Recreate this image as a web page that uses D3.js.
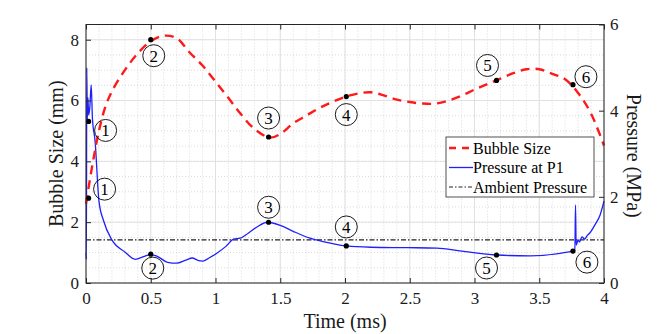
<!DOCTYPE html>
<html>
<head>
<meta charset="utf-8">
<script src="https://cdn.jsdelivr.net/npm/d3@7"></script>
<style>
  body { margin: 0; background: #fff; }
</style>
</head>
<body>
<div id="canvas"></div>
<script>
"use strict"

/* ---------- data ---------- */
let bubbleTime = [0, 0.05, 0.1, 0.15, 0.2, 0.3, 0.4, 0.5, 0.6, 0.7, 0.8, 0.9, 1.0, 1.1, 1.2, 1.3, 1.42,
  1.5, 1.6, 1.7, 1.8, 1.9, 2.0, 2.1, 2.2, 2.3, 2.4, 2.5, 2.6, 2.7, 2.8, 2.9, 3.0, 3.1, 3.2, 3.3, 3.4,
  3.5, 3.6, 3.7, 3.8, 3.9, 4.0];
let bubbleSize = [2.6, 3.9, 5.0, 5.8, 6.3, 7.0, 7.55, 7.95, 8.13, 8.05, 7.58, 7.15, 6.62, 6.08, 5.53, 5.07, 4.78,
  4.9, 5.25, 5.5, 5.75, 5.95, 6.12, 6.23, 6.27, 6.17, 6.03, 5.95, 5.9, 5.9, 6.0, 6.16, 6.36, 6.54, 6.72, 6.9, 7.03,
  7.03, 6.88, 6.7, 6.25, 5.57, 4.52];

let pressureTime = [0, 0.003, 0.006, 0.01, 0.015, 0.02, 0.03, 0.04, 0.05, 0.07, 0.1, 0.135, 0.2, 0.3, 0.38,
  0.45, 0.5, 0.55, 0.63, 0.7, 0.77, 0.82, 0.87, 0.9, 0.95, 1.01, 1.08, 1.14, 1.19, 1.25, 1.32, 1.4, 1.5,
  1.6, 1.73, 1.85, 1.96, 2.01, 2.2, 2.48, 2.71, 2.9, 3.17, 3.43, 3.66, 3.76, 3.775, 3.78, 3.785, 3.8,
  3.81, 3.83, 3.85, 3.87, 3.89, 3.93, 3.97, 4.0];
let pressureVal = [0.7, 0.55, 5.0, 3.8, 4.3, 3.9, 4.1, 4.6, 3.8, 3.3, 1.9, 1.45, 1.0, 0.72, 0.55,
  0.62, 0.66, 0.62, 0.48, 0.46, 0.53, 0.58, 0.52, 0.51, 0.58, 0.69, 0.85, 1.02, 1.04, 1.15, 1.3, 1.41, 1.34,
  1.2, 1.04, 0.95, 0.88, 0.86, 0.83, 0.82, 0.81, 0.74, 0.65, 0.63, 0.69, 0.74, 0.75, 1.81, 0.88, 1.0,
  0.95, 1.07, 1.02, 1.1, 1.16, 1.35, 1.58, 1.9];

let ambientPressure = 1.0;

let markLabels = ["1", "2", "3", "4", "5", "6"];
let markTime = [0.02, 0.5, 1.41, 2.01, 3.17, 3.76];
let bubbleMark = [2.79, 8.0, 4.8, 6.13, 6.66, 6.52];
let pressureMark = [3.75, 0.67, 1.41, 0.86, 0.65, 0.74];

let xTicks = [0, 0.5, 1, 1.5, 2, 2.5, 3, 3.5, 4];
let leftTicks = [0, 2, 4, 6, 8];
let rightTicks = [0, 2, 4, 6];

let legendNames = ["Bubble Size", "Pressure at P1", "Ambient Pressure"];

/* ---------- canvas ---------- */
let width = 667, height = 334;
let plotLeft = 86, plotRight = 604, plotTop = 24.5, plotBottom = 283;
let axisColor = "#262626";
let serif = "'Liberation Serif', 'Times New Roman', serif";

let drawing = d3.select("#canvas")
  .append("svg")
  .attr("width", width)
  .attr("height", height)
  .style("font-family", serif);

let x = d3.scaleLinear().domain([0, 4]).range([plotLeft, plotRight]);
let yLeft = d3.scaleLinear().domain([0, 8.5]).range([plotBottom, plotTop]);
let yRight = d3.scaleLinear().domain([0, 6]).range([plotBottom, plotTop]);

/* ---------- grid (minor dotted, major solid) ---------- */
let grid = drawing.append("g");
let xMinor = d3.range(0, 4.0001, 0.1);
let yMinor = d3.range(0, 8.5001, 0.5);

grid.selectAll(".xm").data(xMinor).join("line")
  .attr("x1", d => x(d)).attr("x2", d => x(d))
  .attr("y1", plotTop).attr("y2", plotBottom)
  .attr("stroke", "#cccccc").attr("stroke-width", 0.7).attr("stroke-dasharray", "1,2");
grid.selectAll(".ym").data(yMinor).join("line")
  .attr("x1", plotLeft).attr("x2", plotRight)
  .attr("y1", d => yLeft(d)).attr("y2", d => yLeft(d))
  .attr("stroke", "#cccccc").attr("stroke-width", 0.7).attr("stroke-dasharray", "1,2");
grid.selectAll(".xM").data(xTicks).join("line")
  .attr("x1", d => x(d)).attr("x2", d => x(d))
  .attr("y1", plotTop).attr("y2", plotBottom)
  .attr("stroke", "#dcdcdc").attr("stroke-width", 0.8);
grid.selectAll(".yM").data(leftTicks).join("line")
  .attr("x1", plotLeft).attr("x2", plotRight)
  .attr("y1", d => yLeft(d)).attr("y2", d => yLeft(d))
  .attr("stroke", "#dcdcdc").attr("stroke-width", 0.8);

/* ---------- curves ---------- */
let ambientLine = drawing.append("line")
  .attr("x1", x(0)).attr("x2", x(4))
  .attr("y1", yRight(ambientPressure)).attr("y2", yRight(ambientPressure))
  .attr("stroke", "#222").attr("stroke-width", 1.1)
  .attr("stroke-dasharray", "5,2,1.5,2");

let pressureLine = d3.line()
  .x((d, i) => x(pressureTime[i]))
  .y(d => yRight(d))
  .curve(d3.curveMonotoneX);

drawing.append("path")
  .datum(pressureVal)
  .attr("d", pressureLine)
  .attr("fill", "none")
  .attr("stroke", "#1f1fff")
  .attr("stroke-width", 1.3);

let bubbleLine = d3.line()
  .x((d, i) => x(bubbleTime[i]))
  .y(d => yLeft(d))
  .curve(d3.curveCatmullRom);

drawing.append("path")
  .datum(bubbleSize)
  .attr("d", bubbleLine)
  .attr("fill", "none")
  .attr("stroke", "#ff1a1a")
  .attr("stroke-width", 2.4)
  .attr("stroke-dasharray", "9,6");

/* ---------- numbered markers ---------- */
/* label offsets (px) from each dot */
let bubbleOffset = [[16, -9], [3, 16], [0, -19], [0, 18], [-9, -15], [13, -8]];
let pressureOffset = [[17, 9], [2, 14], [0, -15], [0, -19], [-10, 13], [14, 11]];

function drawMarks(values, yScale, offsets) {
  let g = drawing.append("g");
  values.forEach((v, i) => {
    let px = x(markTime[i]), py = yScale(v);
    g.append("circle").attr("cx", px).attr("cy", py).attr("r", 2.6).attr("fill", "#000");
    let cx = px + offsets[i][0], cy = py + offsets[i][1];
    g.append("circle").attr("cx", cx).attr("cy", cy).attr("r", 11)
      .attr("fill", "none").attr("stroke", "#000").attr("stroke-width", 0.9);
    g.append("text").attr("x", cx).attr("y", cy + 6)
      .attr("text-anchor", "middle").style("font-size", "17px")
      .style("font-family", serif).attr("fill", "#000")
      .text(markLabels[i]);
  });
}
drawMarks(bubbleMark, yLeft, bubbleOffset);
drawMarks(pressureMark, yRight, pressureOffset);

/* ---------- frame and axes ---------- */
let frame = drawing.append("rect")
  .attr("x", plotLeft).attr("y", plotTop)
  .attr("width", plotRight - plotLeft).attr("height", plotBottom - plotTop)
  .attr("fill", "none").attr("stroke", axisColor).attr("stroke-width", 1);

function styleAxis(g) {
  g.select(".domain").remove();
  g.selectAll("line").attr("stroke", axisColor);
  g.selectAll("text").attr("fill", "#1a1a1a")
    .style("font-family", serif).style("font-size", "17px");
}

drawing.append("g")
  .attr("transform", `translate(0,${plotBottom})`)
  .call(d3.axisBottom(x).tickValues(xTicks).tickFormat(d3.format("~g"))
    .tickSizeInner(-5).tickSizeOuter(0).tickPadding(9))
  .call(styleAxis);

drawing.append("g")
  .attr("transform", `translate(0,${plotTop})`)
  .call(d3.axisTop(x).tickValues(xTicks).tickFormat("")
    .tickSizeInner(-5).tickSizeOuter(0))
  .call(styleAxis);

drawing.append("g")
  .attr("transform", `translate(${plotLeft},0)`)
  .call(d3.axisLeft(yLeft).tickValues(leftTicks).tickFormat(d3.format("~g"))
    .tickSizeInner(-5).tickSizeOuter(0).tickPadding(7))
  .call(styleAxis);

drawing.append("g")
  .attr("transform", `translate(${plotRight},0)`)
  .call(d3.axisRight(yRight).tickValues(rightTicks).tickFormat(d3.format("~g"))
    .tickSizeInner(-5).tickSizeOuter(0).tickPadding(6))
  .call(styleAxis);

/* axis titles */
drawing.append("text")
  .attr("x", (plotLeft + plotRight) / 2).attr("y", 328)
  .attr("text-anchor", "middle").style("font-size", "20px")
  .style("font-family", serif).attr("fill", "#1a1a1a")
  .text("Time (ms)");

drawing.append("text")
  .attr("transform", `translate(63,${(plotTop + plotBottom) / 2}) rotate(-90)`)
  .attr("text-anchor", "middle").style("font-size", "20px")
  .style("font-family", serif).attr("fill", "#1a1a1a")
  .text("Bubble Size (mm)");

drawing.append("text")
  .attr("transform", `translate(627,${(plotTop + plotBottom) / 2 + 2}) rotate(90)`)
  .attr("text-anchor", "middle").style("font-size", "20px")
  .style("font-family", serif).attr("fill", "#1a1a1a")
  .text("Pressure (MPa)");

/* ---------- legend ---------- */
let legend = drawing.append("g").attr("transform", "translate(446,137)");
legend.append("rect")
  .attr("width", 148).attr("height", 60)
  .attr("fill", "#fff").attr("stroke", axisColor).attr("stroke-width", 0.8);

let legendStyles = [
  { color: "#ff1a1a", width: 2.4, dash: "7,6" },
  { color: "#1f1fff", width: 1.3, dash: null },
  { color: "#222", width: 1.1, dash: "4,2,1.5,2" }
];
legendNames.forEach((name, i) => {
  let ly = 11 + i * 19.5;
  legend.append("line")
    .attr("x1", 3).attr("x2", 27).attr("y1", ly).attr("y2", ly)
    .attr("stroke", legendStyles[i].color)
    .attr("stroke-width", legendStyles[i].width)
    .attr("stroke-dasharray", legendStyles[i].dash);
  legend.append("text")
    .attr("x", 27).attr("y", ly + 5.5)
    .style("font-size", "16px")
    .style("font-family", serif).attr("fill", "#000")
    .text(name);
});
</script>
</body>
</html>
